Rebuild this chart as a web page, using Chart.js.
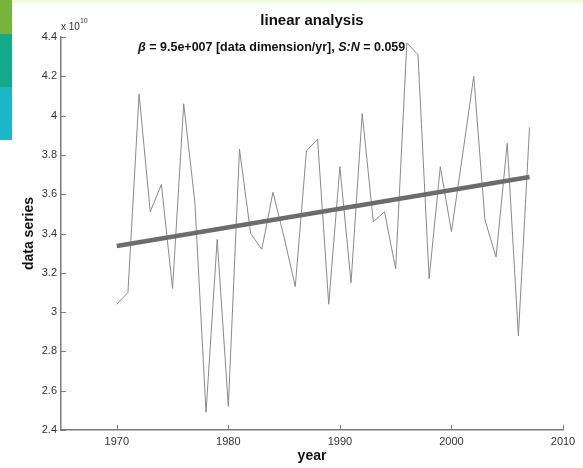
<!DOCTYPE html>
<html>
<head>
<meta charset="utf-8">
<script src="https://cdn.jsdelivr.net/npm/chart.js@4"></script>
<style>
html,body{margin:0;padding:0;background:#fff;}
#wrap{width:583px;height:468px;position:relative;}
</style>
</head>
<body>
<div id="wrap"><canvas id="c" width="583" height="468"></canvas></div>
<script>
// ---- data (values in units of 10^10) ----
const years = [1970,1971,1972,1973,1974,1975,1976,1977,1978,1979,1980,1981,1982,1983,1984,1985,1986,1987,1988,1989,1990,1991,1992,1993,1994,1995,1996,1997,1998,1999,2000,2001,2002,2003,2004,2005,2006,2007];
const series = [3.04,3.10,4.11,3.51,3.65,3.12,4.06,3.56,2.49,3.37,2.52,3.83,3.40,3.32,3.61,3.38,3.13,3.82,3.88,3.04,3.74,3.15,4.01,3.46,3.51,3.22,4.37,4.31,3.17,3.74,3.41,3.80,4.20,3.47,3.28,3.86,2.88,3.94];
const trendYears = [1970, 2007];
const trendValues = [3.336, 3.688];
const xTicks = [1970,1980,1990,2000,2010];
const yTicks = [2.4,2.6,2.8,3.0,3.2,3.4,3.6,3.8,4.0,4.2,4.4];
const titleText = 'linear analysis';
const multiplierText = ['x 10', '10'];

const FONT = '"Liberation Sans", Arial, sans-serif';
const AXIS = '#7a7a7a';

const decor = {
  id: 'decor',
  beforeDraw(chart) {
    const ctx = chart.ctx;
    ctx.save();
    ctx.fillStyle = '#ffffff';
    ctx.fillRect(0, 0, chart.width, chart.height);
    ctx.fillStyle = '#eff8e0';
    ctx.fillRect(0, 0, chart.width, 3);
    ctx.fillStyle = '#78b43c';
    ctx.fillRect(0, 0, 12, 34);
    ctx.fillStyle = '#13a98b';
    ctx.fillRect(0, 34, 12, 53);
    ctx.fillStyle = '#1bb6c9';
    ctx.fillRect(0, 87, 12, 53);
    ctx.restore();
  },
  afterDraw(chart) {
    const ctx = chart.ctx;
    const xs = chart.scales.x, ys = chart.scales.y;
    const a = chart.chartArea;
    ctx.save();
    // inward tick marks
    ctx.strokeStyle = AXIS;
    ctx.lineWidth = 1;
    ctx.beginPath();
    xTicks.forEach(v => {
      const px = Math.round(xs.getPixelForValue(v)) + 0.5;
      ctx.moveTo(px, a.bottom);
      ctx.lineTo(px, a.bottom - 5);
    });
    yTicks.forEach(v => {
      const py = Math.round(ys.getPixelForValue(v)) + 0.5;
      ctx.moveTo(a.left, py);
      ctx.lineTo(a.left + 5, py);
    });
    ctx.stroke();
    // title
    ctx.fillStyle = '#111';
    ctx.textAlign = 'center';
    ctx.textBaseline = 'middle';
    ctx.font = 'bold 15px ' + FONT;
    ctx.fillText(titleText, (a.left + a.right) / 2, 21);
    // subtitle with italic parts
    const parts = [
      ['italic ', '\u03B2'],
      ['', ' = 9.5e+007 [data dimension/yr], '],
      ['italic ', 'S:N'],
      ['', ' = 0.059']
    ];
    ctx.textAlign = 'left';
    let x = 138;
    parts.forEach(p => {
      ctx.font = p[0] + 'bold 12.5px ' + FONT;
      ctx.fillText(p[1], x, 48);
      x += ctx.measureText(p[1]).width;
    });
    // multiplier
    ctx.fillStyle = '#333';
    ctx.font = '10px ' + FONT;
    ctx.fillText(multiplierText[0], a.left, 27);
    const w = ctx.measureText(multiplierText[0]).width;
    ctx.font = '7px ' + FONT;
    ctx.fillText(multiplierText[1], a.left + w, 21);
    ctx.restore();
  }
};

new Chart(document.getElementById('c'), {
  type: 'line',
  data: {
    datasets: [
      {
        data: years.map((y, i) => ({x: y, y: series[i]})),
        borderColor: '#8a8a8a',
        borderWidth: 1,
        pointRadius: 0,
        tension: 0,
        fill: false,
        order: 2
      },
      {
        data: trendYears.map((y, i) => ({x: y, y: trendValues[i]})),
        borderColor: '#6c6c6c',
        borderWidth: 4.5,
        pointRadius: 0,
        tension: 0,
        fill: false,
        order: 1
      }
    ]
  },
  options: {
    responsive: false,
    animation: false,
    devicePixelRatio: 1,
    layout: {padding: {top: 37, right: 20, left: 0, bottom: 0}},
    plugins: {legend: {display: false}, tooltip: {enabled: false}, title: {display: false}},
    scales: {
      x: {
        type: 'linear',
        min: 1965, max: 2010,
        afterBuildTicks: s => { s.ticks = xTicks.map(v => ({value: v})); },
        afterFit: s => { s.height = 38; },
        grid: {display: false, drawTicks: false},
        border: {display: true, color: AXIS, width: 1.5},
        ticks: {color: '#333', font: {family: FONT, size: 11}, padding: 5, maxRotation: 0, autoSkip: false, callback: v => String(v)},
        title: {display: true, text: 'year', color: '#111', font: {family: FONT, size: 14, weight: 'bold'}, padding: {top: 0, bottom: 3}}
      },
      y: {
        type: 'linear',
        min: 2.4, max: 4.4,
        afterBuildTicks: s => { s.ticks = yTicks.map(v => ({value: v})); },
        afterFit: s => { s.width = 61; },
        grid: {display: false, drawTicks: false},
        border: {display: true, color: AXIS, width: 1.5},
        ticks: {color: '#333', font: {family: FONT, size: 11}, padding: 4, autoSkip: false, callback: v => String(Number(v.toFixed(1)))},
        title: {display: true, text: 'data series', color: '#111', font: {family: FONT, size: 14, weight: 'bold'}, padding: {top: 21, bottom: 0}}
      }
    }
  },
  plugins: [decor]
});
</script>
</body>
</html>
